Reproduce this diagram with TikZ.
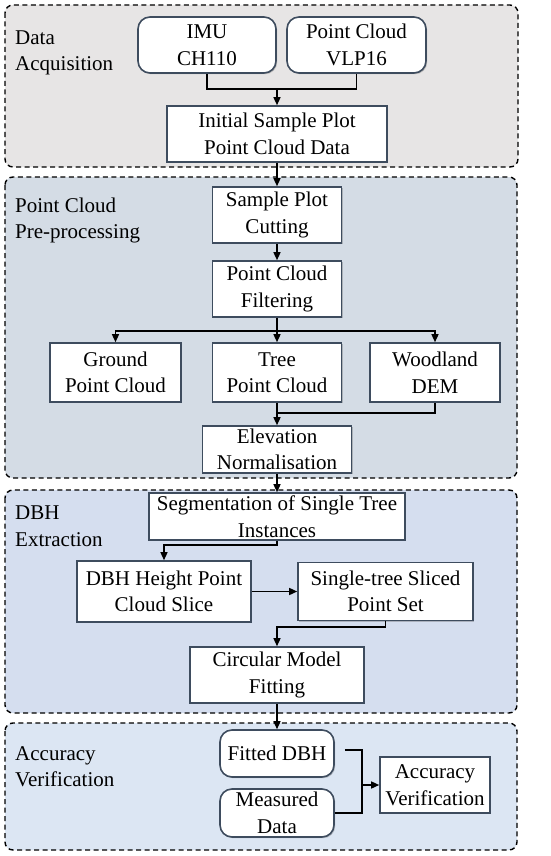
\documentclass[tikz,border=0pt]{standalone}
\usepackage{fontspec}
\setmainfont{Liberation Serif}
\usetikzlibrary{arrows.meta,shadows}
\definecolor{pone}{HTML}{E7E5E5}
\definecolor{ptwo}{HTML}{D4DCE5}
\definecolor{pthree}{HTML}{D5DEEF}
\definecolor{pfour}{HTML}{DCE6F3}
\definecolor{bordc}{HTML}{3E4C5E}
\begin{document}
\begin{tikzpicture}[x=1pt,y=-1pt,
  every node/.style={font=\fontsize{21}{26.5}\selectfont, inner sep=0pt},
  panel/.style={draw=black, line width=1.4pt, dash pattern=on 5pt off 3.5pt, rounded corners=8pt},
  box/.style={draw=bordc, line width=1.6pt, fill=white, align=center,
    drop shadow={shadow xshift=1.2pt, shadow yshift=-1.2pt, opacity=0.3, fill=black!70}},
  rbox/.style={box, rounded corners=12pt},
  lab/.style={anchor=north west, align=left},
  conn/.style={line width=1.4pt},
  arr/.style={conn, -{Triangle[length=8pt,width=7pt]}}
]
\useasboundingbox (0,0) rectangle (550,856);
\fill[white] (0,0) rectangle (550,856);
% panels
\draw[panel, fill=pone] (5,5) rectangle (518,167);
\draw[panel, fill=ptwo] (5,177) rectangle (517,478);
\draw[panel, fill=pthree] (5,490) rectangle (517,713);
\draw[panel, fill=pfour] (5,723) rectangle (517,850);
% panel labels
\node[lab] (l1) at (15,30.5) {Data\\Acquisition};
\node[lab] (l2) at (15,197.5) {Point Cloud\\Pre-processing};
\node[lab] (l3) at (15,506) {DBH\\Extraction};
\node[lab] (l4) at (15,746) {Accuracy\\Verification};
% boxes
\node[rbox, minimum width=138pt, minimum height=56pt] (imu) at (207,45) {IMU\\CH110};
\node[rbox, minimum width=139pt, minimum height=56pt] (vlp) at (356.5,45) {Point Cloud\\VLP16};
\node[box, minimum width=220pt, minimum height=56pt] (init) at (277,134) {Initial Sample Plot\\Point Cloud Data};
\node[box, minimum width=129pt, minimum height=56pt] (cut) at (277,215) {Sample Plot\\Cutting};
\node[box, minimum width=129pt, minimum height=56pt] (filt) at (277,289) {Point Cloud\\Filtering};
\node[box, minimum width=131pt, minimum height=59pt] (ground) at (115.5,372.5) {Ground\\Point Cloud};
\node[box, minimum width=129pt, minimum height=59pt] (tree) at (277,372.5) {Tree\\Point Cloud};
\node[box, minimum width=130pt, minimum height=59pt] (wood) at (435,372.5) {Woodland\\DEM};
\node[box, minimum width=149pt, minimum height=47pt] (elev) at (277,449.5) {Elevation\\Normalisation};
\node[box, minimum width=256pt, minimum height=47pt] (seg) at (277,516.5) {Segmentation of Single Tree\\Instances};
\node[box, minimum width=174pt, minimum height=61pt] (dbh) at (164,591.5) {DBH Height Point\\Cloud Slice};
\node[box, minimum width=175pt, minimum height=58pt] (single) at (385.5,591.5) {Single-tree Sliced\\Point Set};
\node[box, minimum width=174pt, minimum height=56pt] (circ) at (277,675) {Circular Model\\Fitting};
\node[rbox, minimum width=114pt, minimum height=47pt] (fit) at (277,753.5) {Fitted DBH};
\node[rbox, minimum width=114pt, minimum height=48pt] (meas) at (277,813) {Measured\\Data};
\node[box, minimum width=110pt, minimum height=56pt] (acc) at (435,785) {Accuracy\\Verification};
% connectors
\coordinate (m1) at (277,89);
\draw[conn] (imu.south) |- (m1) -| (vlp.south);
\draw[arr] (m1) -- (init.north);
\draw[arr] (init.south) -- (cut.north);
\draw[arr] (cut.south) -- (filt.north);
\coordinate (s1) at (277,331);
\draw[conn] (filt.south) -- (s1);
\draw[arr] (s1) -| (ground.north);
\draw[arr] (s1) -- (tree.north);
\draw[arr] (s1) -| (wood.north);
\coordinate (m2) at (277,413);
\draw[arr] (tree.south) -- (elev.north);
\draw[conn] (wood.south) |- (m2);
\draw[arr] (elev.south) -- (seg.north);
\coordinate (c3) at (277,545);
\draw[arr] (seg.south) -- (c3) -| (dbh.north);
\draw[arr] (dbh.east) -- (single.west);
\coordinate (c4) at (277,627);
\draw[arr] (single.south) |- (c4) -- (circ.north);
\draw[arr] (circ.south) -- (fit.north);
\coordinate (j1) at (362,785);
\draw[conn] ([xshift=10pt,yshift=3.5pt]fit.east) -| (j1);
\draw[conn] (meas.east) -| (j1);
\draw[arr] (j1) -- (acc.west);
\end{tikzpicture}
\end{document}
